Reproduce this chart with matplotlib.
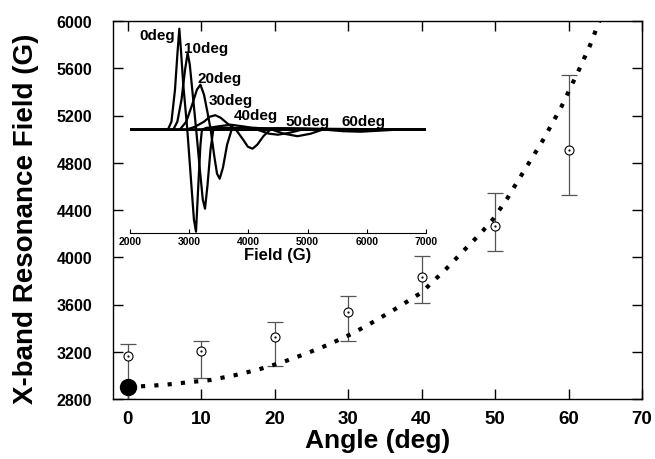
import matplotlib
matplotlib.use('Agg')
import matplotlib.pyplot as plt

plt.rcParams['font.family'] = ['Liberation Sans', 'DejaVu Sans']
plt.rcParams['font.weight'] = 'bold'

# main data: resonance field vs angle
angles = [0, 10, 20, 30, 40, 50, 60]
field = [3163, 3203, 3327, 3533, 3837, 4268, 4905]
field_hi = [3265, 3293, 3448, 3673, 4011, 4541, 5539]
field_lo = [2800, 2978, 3076, 3293, 3614, 4051, 4527]

# dotted fit curve
fit_deg = [0, 1.7, 5, 8, 11.2, 14.5, 17.7, 21, 24.1, 27.4, 30.5, 33.7, 36.9, 40,
           43.3, 46.4, 48.0, 49.7, 51.6, 52.6, 56.5, 59, 61.4, 62.9, 64.2, 65]
fit_field = [2900, 2907, 2920, 2940, 2960, 3000, 3048, 3110, 3180, 3262, 3352, 3462, 3580, 3702,
             3899, 4099, 4200, 4320, 4491, 4595, 4989, 5270, 5584, 5790, 6000, 6130]

# single calculated point at 0 deg
calc_deg = [0]
calc_field = [2900]

# inset spectra (field in G, signal in arbitrary units)
spec_labels = ['0deg', '10deg', '20deg', '30deg', '40deg', '50deg', '60deg']
spec_0_x = [2000, 2640, 2700, 2760, 2800, 2833, 2860, 2900, 2968, 3030, 3080, 3115, 3150, 3190, 3215, 3300, 7000]
spec_0_y = [0, 0, 8, 40, 75, 101, 80, 45, 0, -50, -90, -102, -60, -15, 0, 2, 0]
spec_10_x = [2000, 2730, 2800, 2870, 2930, 2974, 3010, 3060, 3118, 3180, 3230, 3267, 3310, 3360, 3407, 7000]
spec_10_y = [0, 0, 8, 30, 60, 77, 65, 35, 0, -40, -70, -79, -55, -20, 0, 0]
spec_20_x = [2000, 2840, 2950, 3050, 3130, 3190, 3250, 3310, 3363, 3420, 3470, 3515, 3570, 3640, 3717, 7000]
spec_20_y = [0, 0, 8, 25, 40, 45, 35, 17, 0, -25, -44, -49, -38, -15, 0, 0]
spec_30_x = [2000, 2950, 3100, 3250, 3350, 3440, 3530, 3650, 3790, 3900, 3990, 4070, 4150, 4260, 4370, 7000]
spec_30_y = [0, 0, 3, 8, 13, 14.5, 12, 6, 0, -9, -17, -19, -15, -6, 0, 0]
spec_40_x = [2000, 3200, 3450, 3700, 3950, 4150, 4350, 4500, 4700, 4900, 7000]
spec_40_y = [0, 0, 3, 5, 3, 0, -4, -5, -3, 0, 0]
spec_50_x = [2000, 3500, 3950, 4200, 4400, 4600, 4830, 5050, 5250, 7000]
spec_50_y = [0, 0, 2.5, 1.5, 0, -4, -6.5, -4, 0, 0]
spec_60_x = [2000, 4000, 4500, 5000, 5300, 5600, 5900, 6200, 6500, 7000]
spec_60_y = [0, 0, 1.5, 1, 0, -1.5, -2, -1, 0, 0]
spec_x = [spec_0_x, spec_10_x, spec_20_x, spec_30_x, spec_40_x, spec_50_x, spec_60_x]
spec_y = [spec_0_y, spec_10_y, spec_20_y, spec_30_y, spec_40_y, spec_50_y, spec_60_y]
label_x = [2456, 3284, 3520, 3706, 4128, 5007, 5936]
label_y = [94.7, 81.7, 51.7, 29.7, 14.7, 8.7, 8.7]

fig = plt.figure(figsize=(6.55, 4.6), dpi=100)
W, H = 655, 460
ax = fig.add_axes([113 / W, 1 - 400 / H, (642 - 113) / W, (400 - 22) / H])

yerr = [[f - lo for f, lo in zip(field, field_lo)], [hi - f for f, hi in zip(field, field_hi)]]
ax.errorbar(angles, field, yerr=yerr, fmt='none', ecolor='#555555', elinewidth=0.9,
            capsize=5.6, capthick=0.9, zorder=2)
ax.plot(fit_deg, fit_field, color='black', lw=3, linestyle=(0, (1, 2.2)), zorder=3)
ax.plot(angles, field, 'o', mfc='white', mec='black', ms=6.5, mew=0.8, zorder=4)
ax.plot(angles, field, '.', color='black', ms=1.2, zorder=5)
ax.plot(calc_deg, calc_field, 'o', color='black', ms=11.5, clip_on=False, zorder=6)

ax.set_xlim(-2, 70)
ax.set_ylim(2800, 6000)
ax.set_xticks(range(0, 71, 10))
ax.set_yticks(range(2800, 6001, 400))
ax.tick_params(direction='in', length=7, width=1, top=True, right=True)
ax.tick_params(axis='x', labelsize=13.5, pad=8)
ax.tick_params(axis='y', labelsize=11.5, pad=15)
for s in ax.spines.values():
    s.set_linewidth(1)
ax.set_xlabel('Angle (deg)', fontsize=19, fontweight='bold', labelpad=1)
ax.set_ylabel('X-band Resonance Field (G)', fontsize=20, fontweight='bold')
ax.yaxis.set_label_coords(-0.14, 0.48)

# inset with the spectra
ax_in = fig.add_axes([130 / W, 1 - 234 / H, 296 / W, (234 - 25) / H])
ax_in.patch.set_visible(False)
for sx, sy in zip(spec_x, spec_y):
    ax_in.plot(sx, sy, color='black', lw=1.6)
for lab, lx, ly in zip(spec_labels, label_x, label_y):
    ax_in.text(lx, ly, lab, fontsize=11, fontweight='bold', ha='center', va='center')
ax_in.set_xlim(2000, 7000)
ax_in.set_ylim(-103.3, 105.7)
for side in ['left', 'right', 'top']:
    ax_in.spines[side].set_visible(False)
ax_in.set_yticks([])
ax_in.set_xticks(range(2000, 7001, 1000))
ax_in.tick_params(direction='in', length=3, labelsize=7.5, pad=2)
ax_in.set_xlabel('Field (G)', fontsize=12, fontweight='bold', labelpad=1)

fig.savefig('out.png', dpi=100)
